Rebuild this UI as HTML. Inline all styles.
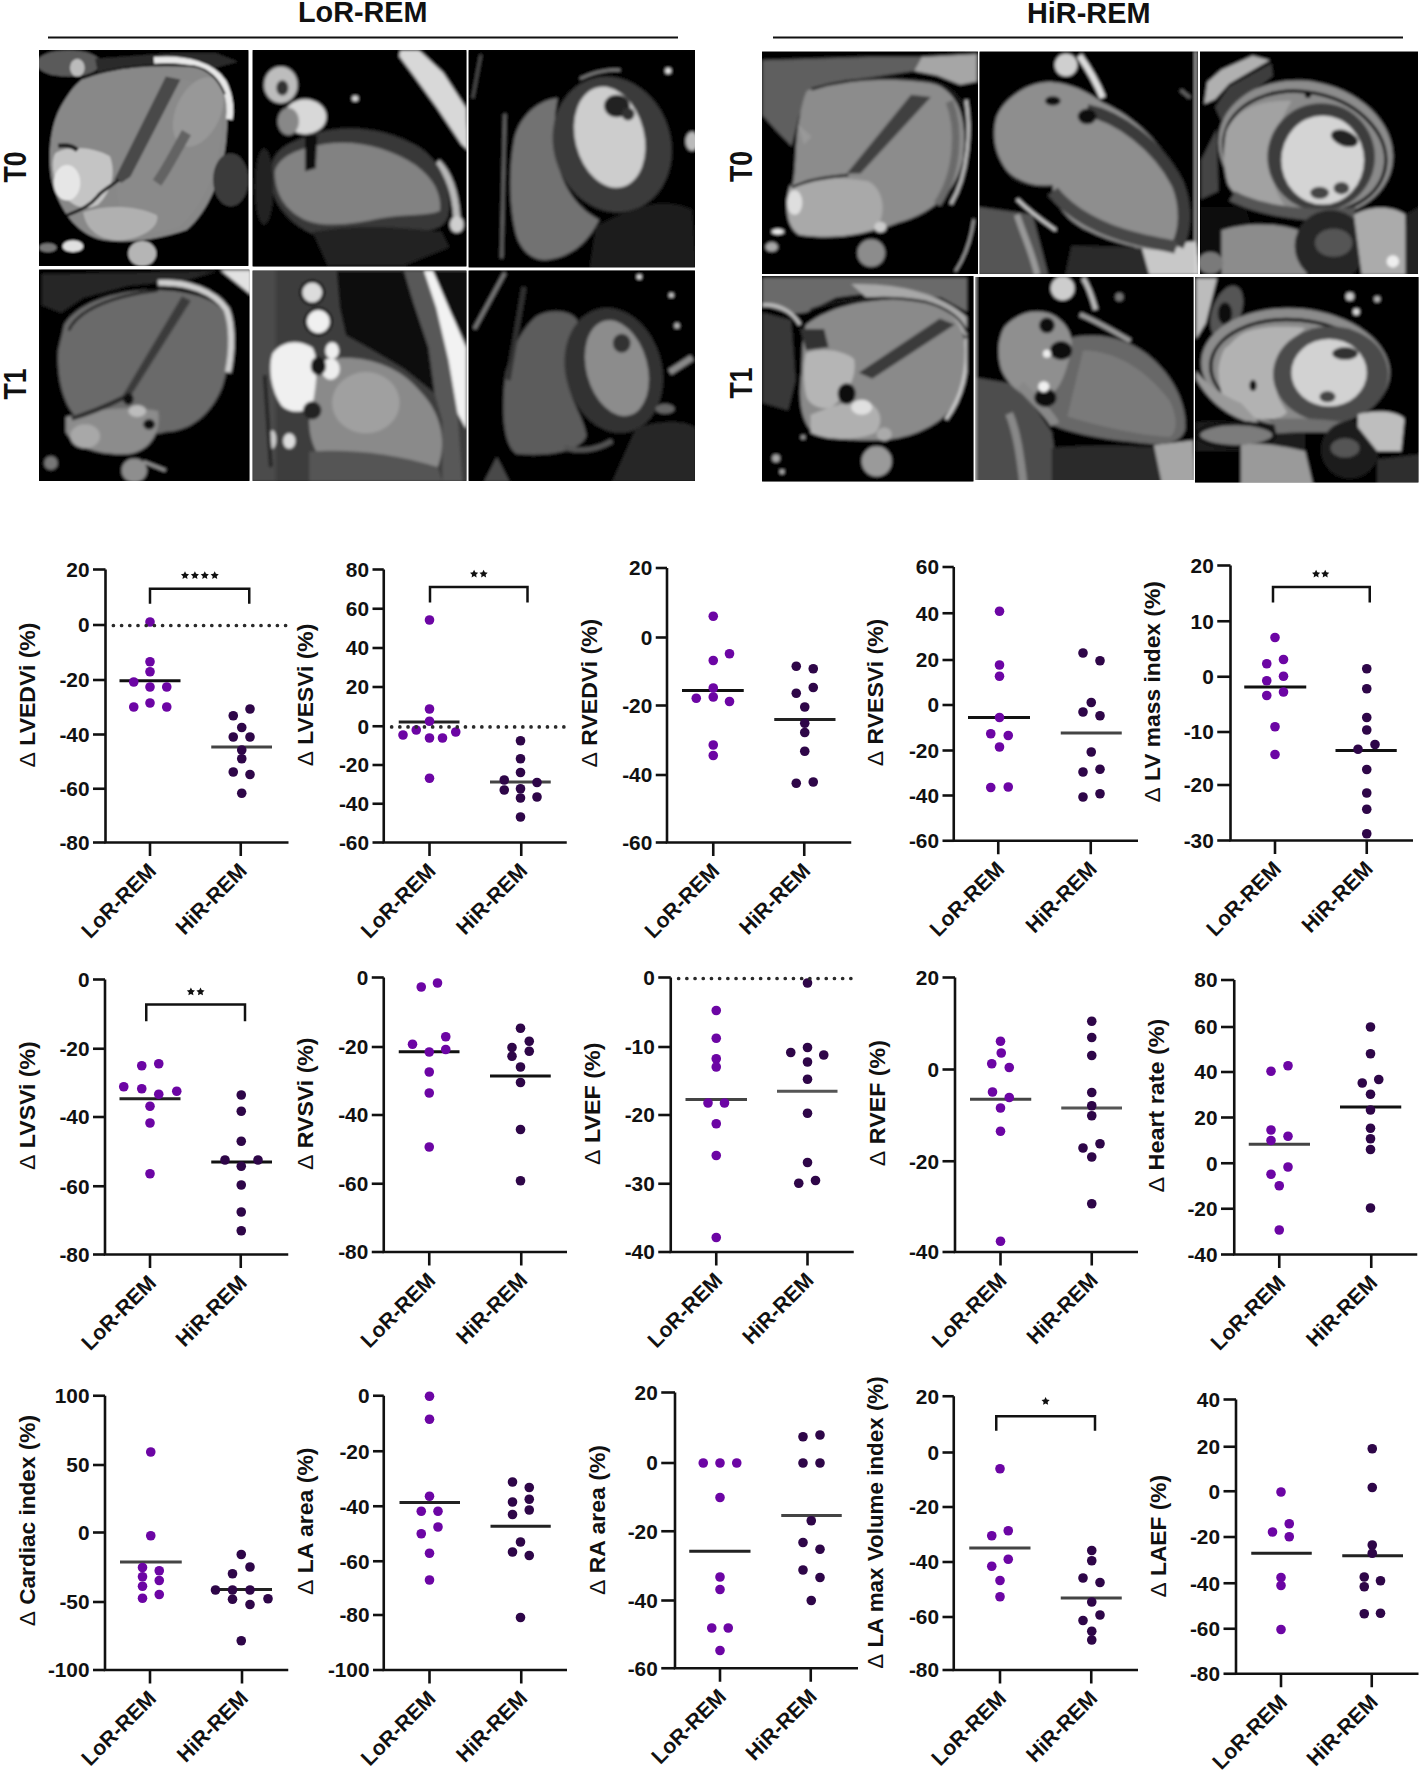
<!DOCTYPE html>
<html><head><meta charset="utf-8"><title>Figure</title>
<style>
html,body{margin:0;padding:0;background:#fff;}
body{width:1424px;height:1772px;overflow:hidden;}
svg{display:block;}
text{font-family:"Liberation Sans", sans-serif;font-weight:bold;fill:#111;}
.tk{font-size:20.8px;text-anchor:end;}
.xl{font-size:21.5px;text-anchor:end;}
.yl{font-size:22.5px;text-anchor:middle;}
.st{font-size:19px;text-anchor:middle;}
.ti{font-size:29.5px;}
</style></head><body>
<svg width="1424" height="1772" viewBox="0 0 1424 1772">
<rect width="1424" height="1772" fill="#fff"/>

<text x="298" y="22.4" class="ti" textLength="129.5" lengthAdjust="spacingAndGlyphs">LoR-REM</text>
<text x="1027" y="22.6" class="ti" textLength="123.5" lengthAdjust="spacingAndGlyphs">HiR-REM</text>
<path d="M48 37.5H678M773 37.5H1403" stroke="#111" stroke-width="2.2"/>
<text transform="translate(26 167) rotate(-90)" x="0" y="0" style="font-size:31px;text-anchor:middle" textLength="31" lengthAdjust="spacingAndGlyphs">T0</text>
<text transform="translate(26 384) rotate(-90)" x="0" y="0" style="font-size:31px;text-anchor:middle" textLength="31" lengthAdjust="spacingAndGlyphs">T1</text>
<text transform="translate(752 166.5) rotate(-90)" x="0" y="0" style="font-size:31px;text-anchor:middle" textLength="31" lengthAdjust="spacingAndGlyphs">T0</text>
<text transform="translate(752 383) rotate(-90)" x="0" y="0" style="font-size:31px;text-anchor:middle" textLength="31" lengthAdjust="spacingAndGlyphs">T1</text>
<defs>
<clipPath id="c_p1"><rect x="39" y="50" width="209.5" height="216"/></clipPath>
<clipPath id="c_p2"><rect x="252.5" y="50" width="214.0" height="216.5"/></clipPath>
<clipPath id="c_p3"><rect x="468.5" y="50" width="226.5" height="217.5"/></clipPath>
<clipPath id="c_p4"><rect x="39" y="269.5" width="210.5" height="211.5"/></clipPath>
<clipPath id="c_p5"><rect x="252.5" y="270.5" width="214.0" height="210.5"/></clipPath>
<clipPath id="c_p6"><rect x="468.5" y="270.5" width="226.5" height="210.5"/></clipPath>
<clipPath id="c_p7"><rect x="762" y="51.5" width="216" height="222.5"/></clipPath>
<clipPath id="c_p8"><rect x="979.5" y="51.5" width="218.5" height="222.5"/></clipPath>
<clipPath id="c_p9"><rect x="1200" y="51.5" width="218" height="222.5"/></clipPath>
<clipPath id="c_p10"><rect x="762" y="276" width="211.5" height="205.5"/></clipPath>
<clipPath id="c_p11"><rect x="975.5" y="277" width="218.0" height="203"/></clipPath>
<clipPath id="c_p12"><rect x="1195" y="277" width="223.5" height="205.5"/></clipPath>
<filter id="mb" x="-5%" y="-5%" width="110%" height="110%"><feGaussianBlur stdDeviation="9"/></filter>
</defs>
<g clip-path="url(#c_p1)"><rect x="39" y="50" width="209.5" height="216" fill="#050505"/><g transform="translate(39 50) scale(0.147472)" filter="url(#mb)">
<rect x="0" y="0" width="1424" height="1465" fill="#050505"/>
<ellipse cx="200" cy="90" rx="220" ry="90" fill="#5a5a5a"/>
<ellipse cx="260" cy="120" rx="50" ry="60" fill="#bbb"/>
<path d="M380 60 L900 20 L1200 20 L1350 80 L1200 120 L700 110 L400 160 Z" fill="#2a2a2a"/>
<path d="M290 200 C500 120 800 90 1100 100 C1250 150 1300 300 1270 600 C1250 850 1150 1100 1000 1220 C800 1290 550 1320 400 1280 C250 1230 150 1100 90 900 C60 750 70 550 130 420 C180 320 230 250 290 200 Z" fill="#888"/>
<path d="M900 190 C1100 200 1220 300 1240 500 C1230 800 1120 1050 950 1200 C800 1250 650 1250 560 1200 L520 900 C600 700 750 400 900 190 Z" fill="#8a8a8a"/>
<ellipse cx="1080" cy="420" rx="150" ry="250" transform="rotate(25 1080 420)" fill="#989898"/>
<path d="M1000 560 C920 700 860 820 800 900" fill="none" stroke="#636363" stroke-width="70"/>
<path d="M110 700 C200 640 380 660 480 720 C520 820 500 950 400 1050 C300 1100 200 1050 140 950 C90 850 80 760 110 700 Z" fill="#c4c4c4"/>
<ellipse cx="190" cy="900" rx="90" ry="120" fill="#e6e6e6"/>
<path d="M300 1100 C450 1050 650 1050 800 1120 C820 1200 700 1280 550 1290 C420 1290 320 1230 300 1100 Z" fill="#b0b0b0"/>
<path d="M860 180 L960 200 L620 860 L560 900 L510 880 Z" fill="#4a4a4a"/>
<path d="M540 880 C480 930 420 960 400 990 C350 1050 300 1080 190 1120" fill="none" stroke="#1a1a1a" stroke-width="22"/>
<path d="M130 650 C200 640 240 660 260 680" fill="none" stroke="#222" stroke-width="30"/>
<path d="M780 70 C1000 50 1180 110 1250 220 C1300 320 1300 420 1290 470" fill="none" stroke="#e8e8e8" stroke-width="45"/>
<path d="M300 190 C500 110 800 90 1050 110 C1150 130 1220 200 1260 300" fill="none" stroke="#1a1a1a" stroke-width="14"/>
<ellipse cx="700" cy="1380" rx="95" ry="85" fill="#b5b5b5"/>
<ellipse cx="230" cy="1330" rx="70" ry="40" fill="#e0e0e0"/>
<ellipse cx="1300" cy="880" rx="120" ry="180" fill="#3a3a3a"/>
<ellipse cx="60" cy="1340" rx="60" ry="30" fill="#777"/>
</g></g>
<g clip-path="url(#c_p2)"><rect x="252.5" y="50" width="214.0" height="216.5" fill="#050505"/><g transform="translate(252 50) scale(0.151685)" filter="url(#mb)">
<rect x="0" y="0" width="1424" height="1437" fill="#050505"/>
<path d="M980 0 L1100 0 L1260 150 L1410 380 L1424 660 L1380 620 L1220 380 L1060 160 L970 40 Z" fill="#d8d8d8"/>
<path d="M1220 740 C1300 820 1340 950 1350 1100" fill="none" stroke="#b8b8b8" stroke-width="45"/>
<ellipse cx="1350" cy="1150" rx="45" ry="55" fill="#cfcfcf"/>
<path d="M130 760 C150 650 250 600 450 540 C650 490 900 520 1100 640 C1250 740 1310 900 1300 1050 C1290 1180 1200 1200 1000 1200 C800 1260 600 1290 450 1230 C250 1170 140 1000 130 900 Z" fill="#383838"/>
<path d="M150 800 C180 700 300 650 480 620 C680 590 900 640 1080 760 C1200 850 1250 950 1240 1060 C1150 1100 1000 1080 850 1110 C700 1140 500 1180 350 1120 C220 1060 150 950 150 800 Z" fill="#828282"/>
<ellipse cx="190" cy="230" rx="110" ry="120" fill="#bdbdbd"/>
<ellipse cx="200" cy="250" rx="40" ry="50" fill="#333"/>
<ellipse cx="350" cy="440" rx="140" ry="115" fill="#d8d8d8"/>
<ellipse cx="240" cy="470" rx="70" ry="90" fill="#888"/>
<path d="M350 560 L430 560 L420 780 L350 800 Z" fill="#0a0a0a"/>
<ellipse cx="680" cy="320" rx="20" ry="18" fill="#ddd"/>
<path d="M400 1200 C600 1160 900 1150 1250 1200 L1300 1300 L1000 1420 L500 1420 Z" fill="#222"/>
<ellipse cx="80" cy="900" rx="60" ry="250" fill="#222"/>
</g></g>
<g clip-path="url(#c_p3)"><rect x="468.5" y="50" width="226.5" height="217.5" fill="#050505"/><g transform="translate(468 50) scale(0.160112)" filter="url(#mb)">
<rect x="0" y="0" width="1424" height="1362" fill="#050505"/>
<path d="M560 300 C450 310 330 400 290 550 C250 750 260 1000 300 1150 C330 1250 400 1320 500 1310 C650 1290 750 1200 820 1060 C700 1000 600 880 560 700 C530 550 540 400 560 300 Z" fill="#727272"/>
<ellipse cx="900" cy="590" rx="365" ry="430" transform="rotate(-18 900 590)" fill="#3a3a3a"/>
<ellipse cx="885" cy="545" rx="215" ry="320" transform="rotate(-14 885 545)" fill="#cdcdcd"/>
<ellipse cx="930" cy="350" rx="80" ry="70" fill="#222"/>
<ellipse cx="1000" cy="400" rx="40" ry="40" fill="#333"/>
<path d="M230 400 L210 1300" stroke="#666" stroke-width="18"/>
<path d="M80 30 L30 300" stroke="#555" stroke-width="14"/>
<ellipse cx="1250" cy="130" rx="18" ry="18" fill="#eee"/>
<ellipse cx="1400" cy="570" rx="40" ry="60" fill="#bbb"/>
<path d="M800 1100 C1000 1000 1200 900 1400 1000 L1424 1362 L760 1362 Z" fill="#1e1e1e"/>
<path d="M700 180 C800 130 900 120 950 125" fill="none" stroke="#888" stroke-width="14"/>
</g></g>
<g clip-path="url(#c_p4)"><rect x="39" y="269.5" width="210.5" height="211.5" fill="#050505"/><g transform="translate(39 268) scale(0.148876)" filter="url(#mb)">
<rect x="0" y="0" width="1424" height="1437" fill="#050505"/>
<path d="M20 40 L700 30 L1200 20 L1000 80 L600 120 L300 200 L150 300 L20 250 Z" fill="#262626"/>
<path d="M1220 15 L1424 15 L1424 180 Z" fill="#e2e2e2"/>
<path d="M170 380 C250 250 450 170 700 150 C900 140 1150 170 1250 300 C1300 450 1280 650 1230 800 C1150 1000 1000 1100 850 1100 C700 1150 400 1050 250 1000 C150 900 120 700 130 550 Z" fill="#6a6a6a"/>
<path d="M180 1000 C350 950 600 920 800 960 C820 1100 750 1230 600 1250 C400 1260 230 1200 180 1100 Z" fill="#8c8c8c"/>
<ellipse cx="310" cy="1130" rx="100" ry="80" fill="#a8a8a8"/>
<ellipse cx="660" cy="960" rx="60" ry="40" fill="#bcbcbc"/>
<path d="M960 190 L1020 220 L610 870 L560 860 Z" fill="#3a3a3a"/>
<path d="M570 870 C450 930 330 980 220 1010" fill="none" stroke="#262626" stroke-width="30"/>
<path d="M800 100 C1000 90 1180 160 1260 280 C1300 380 1300 550 1270 700" fill="none" stroke="#cfcfcf" stroke-width="40"/>
<path d="M200 420 C250 300 450 190 800 150" fill="none" stroke="#1a1a1a" stroke-width="18"/>
<ellipse cx="600" cy="880" rx="35" ry="40" fill="#111"/>
<ellipse cx="740" cy="1050" rx="40" ry="35" fill="#111"/>
<ellipse cx="640" cy="1360" rx="85" ry="80" fill="#8e8e8e"/>
<ellipse cx="80" cy="1310" rx="45" ry="45" fill="#777"/>
<path d="M700 1300 L850 1360" stroke="#999" stroke-width="20"/>
</g></g>
<g clip-path="url(#c_p5)"><rect x="252.5" y="270.5" width="214.0" height="210.5" fill="#050505"/><g transform="translate(251 268) scale(0.153090)" filter="url(#mb)">
<rect x="0" y="0" width="1424" height="1398" fill="#3e3e3e"/>
<rect x="0" y="0" width="160" height="1398" fill="#4c4c4c"/>
<path d="M560 20 L1000 20 L1060 220 L1160 520 L1200 820 L1000 660 L800 540 L620 440 L580 260 Z" fill="#0c0c0c"/>
<path d="M1000 20 L1130 20 L1210 260 L1290 600 L1350 950 L1380 1398 L1250 1398 L1250 1000 L1200 820 L1160 520 L1060 220 Z" fill="#595959"/>
<path d="M1130 20 L1190 20 L1310 300 L1405 520 L1405 1050 L1350 950 L1290 600 L1210 260 Z" fill="#f2f2f2"/>
<path d="M1190 20 L1424 20 L1424 520 L1310 300 Z" fill="#101010"/>
<path d="M500 600 C700 560 950 620 1100 800 C1250 950 1280 1150 1220 1300 C1100 1380 800 1390 600 1350 C450 1300 380 1150 380 1000 C380 800 420 650 500 600 Z" fill="#8a8a8a"/>
<ellipse cx="750" cy="880" rx="220" ry="200" fill="#a0a0a0"/>
<path d="M140 560 C200 480 300 460 400 520 C450 600 420 800 400 900 C350 950 250 950 200 900 C130 800 110 650 140 560 Z" fill="#f0f0f0"/>
<ellipse cx="520" cy="660" rx="60" ry="70" fill="#eee"/>
<circle cx="400" cy="160" r="85" fill="#111"/>
<circle cx="400" cy="160" r="65" fill="#dcdcdc"/>
<circle cx="440" cy="350" r="95" fill="#111"/>
<circle cx="440" cy="350" r="75" fill="#f0f0f0"/>
<ellipse cx="530" cy="540" rx="45" ry="55" fill="#eee"/>
<ellipse cx="440" cy="640" rx="50" ry="60" fill="#141414"/>
<ellipse cx="400" cy="930" rx="60" ry="60" fill="#222"/>
<path d="M380 1200 C600 1180 900 1200 1220 1300 L1250 1398 L380 1398 Z" fill="#555"/>
<ellipse cx="250" cy="1130" rx="40" ry="50" fill="#ddd"/>
<ellipse cx="140" cy="1120" rx="25" ry="60" fill="#ccc"/>
<path d="M90 700 L130 1300" stroke="#222" stroke-width="25"/>
</g></g>
<g clip-path="url(#c_p6)"><rect x="468.5" y="270.5" width="226.5" height="210.5" fill="#050505"/><g transform="translate(468 268) scale(0.160112)" filter="url(#mb)">
<rect x="0" y="0" width="1424" height="1337" fill="#050505"/>
<path d="M430 300 C550 240 680 280 690 350 C680 450 610 550 620 700 C650 850 730 950 740 1050 C700 1150 500 1180 300 1160 C220 1100 210 900 230 700 C250 550 330 380 430 300 Z" fill="#5c5c5c"/>
<ellipse cx="910" cy="640" rx="300" ry="395" transform="rotate(-15 910 640)" fill="#333"/>
<ellipse cx="930" cy="625" rx="190" ry="305" transform="rotate(-15 930 625)" fill="#8c8c8c"/>
<ellipse cx="960" cy="470" rx="55" ry="60" fill="#333"/>
<path d="M230 30 L40 380" stroke="#7a7a7a" stroke-width="22"/>
<path d="M350 120 L250 700" stroke="#333" stroke-width="30"/>
<path d="M1050 1000 C1200 950 1350 950 1424 1000 L1424 1337 L900 1337 Z" fill="#262626"/>
<path d="M1260 650 L1400 560" stroke="#8a8a8a" stroke-width="40"/>
<ellipse cx="1230" cy="880" rx="60" ry="30" fill="#666"/>
<circle cx="1070" cy="55" r="15" fill="#eee"/>
<circle cx="1270" cy="170" r="14" fill="#ddd"/>
<circle cx="1305" cy="360" r="16" fill="#bbb"/>
<path d="M100 1337 L180 1180 L260 1337 Z" fill="#4a4a4a"/>
<path d="M600 1120 C700 1150 800 1140 900 1080" fill="none" stroke="#555" stroke-width="30"/>
</g></g>
<g clip-path="url(#c_p7)"><rect x="762" y="51.5" width="216" height="222.5" fill="#050505"/><g transform="translate(761 51) scale(0.153090)" filter="url(#mb)">
<rect x="0" y="0" width="1424" height="1463" fill="#050505"/>
<path d="M10 60 L700 40 L1050 40 L1000 130 L600 190 L350 260 L250 420 L200 620 L100 520 L10 420 Z" fill="#5e5e5e"/>
<path d="M1050 40 L1410 20 L1410 200 L1300 220 L1150 160 L1000 130 Z" fill="#a6a6a6"/>
<path d="M300 260 C500 170 800 150 1100 200 C1300 260 1350 450 1320 700 C1280 900 1150 1050 900 1120 C700 1200 450 1230 250 1200 C160 1150 150 1000 200 900 C230 800 220 650 240 500 C260 400 270 320 300 260 Z" fill="#8c8c8c"/>
<path d="M190 880 C300 820 500 820 700 850 C800 900 820 1050 760 1150 C650 1210 450 1230 250 1200 C170 1150 150 1000 190 880 Z" fill="#a9a9a9"/>
<ellipse cx="220" cy="990" rx="50" ry="80" fill="#dedede"/>
<path d="M980 285 L1110 300 L650 800 L560 800 Z" fill="#404040"/>
<path d="M1230 330 C1300 500 1290 800 1150 1000" fill="none" stroke="#6a6a6a" stroke-width="50"/>
<path d="M570 810 C450 820 300 840 200 890" fill="none" stroke="#1a1a1a" stroke-width="18"/>
<path d="M330 250 C550 180 800 160 1100 200 C1250 230 1320 320 1340 420" fill="none" stroke="#1a1a1a" stroke-width="16"/>
<path d="M1340 320 C1370 500 1360 800 1240 1000" fill="none" stroke="#bcbcbc" stroke-width="22"/>
<path d="M240 480 L330 560 L280 610 Z" fill="#999"/>
<circle cx="720" cy="1320" r="90" fill="#8c8c8c"/>
<ellipse cx="110" cy="1180" rx="40" ry="18" fill="#eee"/>
<ellipse cx="780" cy="1150" rx="40" ry="35" fill="#ccc"/>
<ellipse cx="70" cy="1280" rx="40" ry="30" fill="#aaa"/>
<path d="M1390 1100 C1370 1250 1330 1350 1270 1440" fill="none" stroke="#ccc" stroke-width="10"/>
</g></g>
<g clip-path="url(#c_p8)"><rect x="979.5" y="51.5" width="218.5" height="222.5" fill="#050505"/><g transform="translate(978 51) scale(0.155899)" filter="url(#mb)">
<rect x="0" y="0" width="1424" height="1437" fill="#050505"/>
<path d="M0 1000 L350 1050 L450 1437 L0 1437 Z" fill="#555"/>
<path d="M250 1050 C300 1200 350 1300 380 1437" fill="none" stroke="#999" stroke-width="40"/>
<path d="M1000 1250 L1400 1220 L1424 1437 L1100 1437 Z" fill="#c8c8c8"/>
<path d="M600 1250 L1050 1260 L1100 1437 L560 1437 Z" fill="#2a2a2a"/>
<path d="M120 420 C180 280 350 190 480 200 C600 210 700 260 800 330 C1000 420 1200 600 1300 850 C1360 1050 1340 1200 1270 1270 C1150 1300 900 1250 700 1150 C550 1080 480 950 480 880 C400 870 250 850 180 760 C100 650 90 520 120 420 Z" fill="#8e8e8e"/>
<path d="M700 380 C900 420 1150 600 1280 850 C1340 1000 1330 1150 1280 1250" fill="none" stroke="#3a3a3a" stroke-width="80"/>
<path d="M480 900 C600 1050 800 1150 1000 1200 C1100 1230 1200 1240 1270 1260" fill="none" stroke="#474747" stroke-width="80"/>
<path d="M200 800 C250 850 350 880 480 870" fill="none" stroke="#111" stroke-width="20"/>
<circle cx="565" cy="90" r="72" fill="#cfcfcf"/>
<path d="M650 30 C700 100 760 200 800 300" fill="none" stroke="#ddd" stroke-width="40"/>
<ellipse cx="480" cy="320" rx="50" ry="30" fill="#111"/>
<ellipse cx="700" cy="420" rx="60" ry="50" fill="#111"/>
<path d="M250 950 C300 1000 400 1080 500 1150" fill="none" stroke="#ccc" stroke-width="20"/>
<path d="M1395 0 L1395 1437" stroke="#ddd" stroke-width="8"/>
<path d="M1300 250 L1360 300" stroke="#666" stroke-width="20"/>
</g></g>
<g clip-path="url(#c_p9)"><rect x="1200" y="51.5" width="218" height="222.5" fill="#050505"/><g transform="translate(1198 51) scale(0.155899)" filter="url(#mb)">
<rect x="0" y="0" width="1424" height="1437" fill="#050505"/>
<path d="M40 340 L60 200 L150 120 L350 30 L460 60 L200 210 L110 310 Z" fill="#b0b0b0"/>
<path d="M110 360 L200 230 L470 80 L480 160 L300 300 L150 450 Z" fill="#3e3e3e"/>
<path d="M20 700 L120 500 L130 900 L20 950 Z" fill="#444"/>
<ellipse cx="690" cy="630" rx="565" ry="435" transform="rotate(12 690 630)" fill="#8c8c8c"/>
<ellipse cx="685" cy="650" rx="525" ry="385" transform="rotate(12 685 650)" fill="#8a8a8a" stroke="#151515" stroke-width="22"/>
<path d="M180 520 C230 380 400 310 600 320 C520 450 470 600 470 750 C480 880 530 960 580 1020 C400 1010 240 960 190 850 C160 750 160 620 180 520 Z" fill="#a2a2a2"/>
<circle cx="790" cy="680" r="345" fill="#3c3c3c"/>
<ellipse cx="800" cy="700" rx="265" ry="285" fill="#d4d4d4"/>
<ellipse cx="940" cy="560" rx="90" ry="50" transform="rotate(20 940 560)" fill="#222"/>
<ellipse cx="780" cy="910" rx="60" ry="40" fill="#444"/>
<ellipse cx="920" cy="880" rx="50" ry="40" fill="#444"/>
<circle cx="705" cy="282" r="20" fill="#000"/>
<path d="M20 1000 L300 1000 L350 1150 L200 1300 L20 1300 Z" fill="#111"/>
<path d="M200 960 C400 1060 700 1110 1000 1080 L1010 1000 C700 1030 400 990 240 900 Z" fill="#555"/>
<path d="M150 1150 C300 1100 500 1100 650 1150 L700 1437 L150 1437 Z" fill="#8c8c8c"/>
<ellipse cx="80" cy="1360" rx="80" ry="70" fill="#7a7a7a"/>
<circle cx="850" cy="1250" r="230" fill="#262626"/>
<ellipse cx="870" cy="1230" rx="120" ry="90" fill="#555"/>
<path d="M1000 1050 C1100 990 1250 990 1330 1050 L1350 1437 L1050 1437 Z" fill="#ababab"/>
<path d="M1330 1050 L1424 1000 L1424 1437 L1330 1437 Z" fill="#222"/>
<circle cx="1250" cy="1350" r="40" fill="#eee"/>
</g></g>
<g clip-path="url(#c_p10)"><rect x="762" y="276" width="211.5" height="205.5" fill="#050505"/><g transform="translate(761 275) scale(0.150281)" filter="url(#mb)">
<rect x="0" y="0" width="1424" height="1384" fill="#050505"/>
<path d="M10 20 L1380 20 L1380 250 L1200 150 L800 110 L500 150 L300 250 L200 260 L10 200 Z" fill="#6a6a6a"/>
<path d="M600 60 C900 50 1200 120 1370 280 L1370 420 C1250 270 1000 160 700 150 Z" fill="#a8a8a8"/>
<path d="M10 200 C100 190 200 230 260 330" fill="none" stroke="#bbb" stroke-width="25"/>
<path d="M10 250 L200 300 L230 700 L180 900 L10 850 Z" fill="#383838"/>
<path d="M300 330 C500 180 800 140 1100 180 C1300 230 1380 400 1370 600 C1360 800 1250 950 1100 1020 C950 1100 800 1100 700 1100 C550 1100 400 1080 330 1030 C260 950 250 800 270 650 C280 500 270 400 300 330 Z" fill="#8a8a8a"/>
<path d="M300 520 C400 480 550 500 620 560 C640 700 560 800 470 880 C400 900 320 870 300 800 C280 700 280 600 300 520 Z" fill="#b5b5b5"/>
<path d="M330 930 C450 880 600 830 700 840 C800 880 820 980 760 1050 C650 1100 450 1110 330 1050 Z" fill="#b0b0b0"/>
<ellipse cx="670" cy="880" rx="70" ry="50" fill="#e0e0e0"/>
<path d="M1190 290 L1290 330 L740 690 L650 650 Z" fill="#3a3a3a"/>
<ellipse cx="570" cy="790" rx="60" ry="70" fill="#0d0d0d"/>
<path d="M260 360 L420 360 L450 480 L300 500 Z" fill="#333"/>
<path d="M330 230 C550 150 850 130 1100 180 C1250 220 1340 300 1370 380" fill="none" stroke="#1a1a1a" stroke-width="16"/>
<path d="M1365 420 C1380 600 1350 800 1230 960" fill="none" stroke="#c8c8c8" stroke-width="24"/>
<circle cx="770" cy="1240" r="100" fill="#9a9a9a"/>
<ellipse cx="820" cy="1060" rx="50" ry="45" fill="#aaa"/>
<path d="M1385 0 L1385 1384" stroke="#000" stroke-width="30"/>
<circle cx="100" cy="1220" r="25" fill="#aaa"/>
<circle cx="140" cy="1310" r="15" fill="#bbb"/>
<circle cx="280" cy="1080" r="15" fill="#999"/>
</g></g>
<g clip-path="url(#c_p11)"><rect x="975.5" y="277" width="218.0" height="203" fill="#050505"/><g transform="translate(973 275) scale(0.157303)" filter="url(#mb)">
<rect x="0" y="0" width="1424" height="1322" fill="#050505"/>
<path d="M0 650 L300 700 L500 1000 L550 1322 L0 1322 Z" fill="#4e4e4e"/>
<path d="M230 880 C280 1000 300 1150 320 1322" fill="none" stroke="#888" stroke-width="50"/>
<path d="M500 1100 C700 1080 1000 1080 1200 1100 L1300 1322 L500 1322 Z" fill="#2b2b2b"/>
<path d="M1150 1080 L1400 1050 L1410 1322 L1200 1322 Z" fill="#a5a5a5"/>
<path d="M620 400 C800 360 1000 400 1150 540 C1300 680 1360 850 1350 980 C1320 1080 1200 1090 1000 1060 C800 1040 600 1000 500 950 C450 850 500 600 620 400 Z" fill="#686868"/>
<path d="M700 480 C900 480 1100 600 1250 800 C1300 900 1300 1000 1250 1030 C1050 1020 800 960 600 900 Z" fill="#7a7a7a"/>
<path d="M200 330 C280 240 400 210 500 250 C600 300 650 400 620 500 C580 650 550 750 450 780 C350 800 230 720 180 600 C150 500 160 400 200 330 Z" fill="#8f8f8f"/>
<path d="M300 700 C400 800 500 900 520 950" fill="none" stroke="#888" stroke-width="60"/>
<circle cx="570" cy="85" r="75" fill="#cdcdcd"/>
<path d="M700 20 C740 80 760 150 780 220" fill="none" stroke="#bbb" stroke-width="30"/>
<path d="M680 250 C800 300 900 360 1000 420" fill="none" stroke="#999" stroke-width="30"/>
<ellipse cx="560" cy="480" rx="70" ry="60" fill="#0a0a0a"/>
<ellipse cx="470" cy="320" rx="50" ry="50" fill="#111"/>
<ellipse cx="460" cy="780" rx="70" ry="60" fill="#0a0a0a"/>
<circle cx="470" cy="500" r="25" fill="#eee"/>
<circle cx="450" cy="710" r="35" fill="#f0f0f0"/>
<circle cx="930" cy="140" r="25" fill="#777"/>
<path d="M15 0 L15 1322" stroke="#ddd" stroke-width="8"/>
</g></g>
<g clip-path="url(#c_p12)"><rect x="1195" y="277" width="223.5" height="205.5" fill="#050505"/><g transform="translate(1193 275) scale(0.160112)" filter="url(#mb)">
<rect x="0" y="0" width="1424" height="1312" fill="#050505"/>
<path d="M20 20 L150 20 L80 300 L20 400 Z" fill="#bcbcbc"/>
<ellipse cx="210" cy="230" rx="90" ry="170" transform="rotate(20 210 230)" fill="#555"/>
<ellipse cx="200" cy="240" rx="45" ry="70" fill="#111"/>
<ellipse cx="640" cy="580" rx="590" ry="370" transform="rotate(5 640 580)" fill="#8c8c8c"/>
<ellipse cx="635" cy="600" rx="525" ry="320" transform="rotate(5 635 600)" fill="#8a8a8a" stroke="#141414" stroke-width="22"/>
<path d="M158 595 C170 500 200 445 219 445 C260 400 300 360 351 349 C420 330 480 323 526 323 C600 322 680 325 701 332 C650 380 620 400 605 419 C570 470 545 500 535 525 C515 580 508 620 508 648 C515 700 525 740 535 770 C555 810 575 840 588 858 C550 890 520 900 482 902 C420 900 360 895 307 884 C260 860 220 830 193 788 C170 720 160 660 158 595 Z" fill="#b2b2b2"/>
<ellipse cx="860" cy="620" rx="360" ry="300" fill="#4c4c4c"/>
<ellipse cx="850" cy="610" rx="235" ry="210" fill="#d2d2d2"/>
<ellipse cx="950" cy="490" rx="80" ry="40" fill="#333"/>
<ellipse cx="840" cy="760" rx="50" ry="35" fill="#444"/>
<ellipse cx="375" cy="690" rx="22" ry="35" fill="#111"/>
<path d="M20 650 C80 760 180 860 320 910 L420 930 L300 800 C200 760 100 700 20 600 Z" fill="#9a9a9a"/>
<path d="M20 920 C200 900 500 920 700 960 L700 1100 L20 1100 Z" fill="#1a1a1a"/>
<ellipse cx="270" cy="1000" rx="240" ry="75" fill="#7c7c7c" stroke="#111" stroke-width="28"/>
<path d="M500 900 C650 890 850 900 1000 930 L980 990 C800 980 650 980 520 990 Z" fill="#707070"/>
<path d="M300 1060 C450 1040 600 1080 700 1100 L750 1312 L300 1312 Z" fill="#9a9a9a"/>
<circle cx="980" cy="1090" r="180" fill="#1e1e1e"/>
<ellipse cx="950" cy="1080" rx="90" ry="60" fill="#555"/>
<path d="M1030 870 C1150 840 1280 850 1320 900 L1300 1100 L1150 1100 L1030 950 Z" fill="#bebebe"/>
<path d="M1150 1150 L1424 1120 L1424 1312 L1150 1312 Z" fill="#2e2e2e"/>
<circle cx="980" cy="135" r="25" fill="#ccc"/>
<circle cx="1150" cy="150" r="18" fill="#bbb"/>
<circle cx="1020" cy="230" r="20" fill="#ddd"/>
</g></g>
<path d="M105.5 569.5V842.5H288.5" fill="none" stroke="#111" stroke-width="2.6"/>
<path d="M93 569.5H105.5" stroke="#111" stroke-width="2.6"/>
<text x="89.5" y="576.8" class="tk">20</text>
<path d="M93 625H105.5" stroke="#111" stroke-width="2.6"/>
<text x="89.5" y="632.3" class="tk">0</text>
<path d="M93 680H105.5" stroke="#111" stroke-width="2.6"/>
<text x="89.5" y="687.3" class="tk">-20</text>
<path d="M93 734.5H105.5" stroke="#111" stroke-width="2.6"/>
<text x="89.5" y="741.8" class="tk">-40</text>
<path d="M93 788.75H105.5" stroke="#111" stroke-width="2.6"/>
<text x="89.5" y="796.05" class="tk">-60</text>
<path d="M93 842.5H105.5" stroke="#111" stroke-width="2.6"/>
<text x="89.5" y="849.8" class="tk">-80</text>
<path d="M150 842.5V856" stroke="#111" stroke-width="2.6"/>
<path d="M240.75 842.5V856" stroke="#111" stroke-width="2.6"/>
<text transform="translate(157.4 872.2) rotate(-45)" x="0" y="0" class="xl" textLength="95" lengthAdjust="spacingAndGlyphs">LoR-REM</text>
<text transform="translate(248.15 872.2) rotate(-45)" x="0" y="0" class="xl" textLength="90.2" lengthAdjust="spacingAndGlyphs">HiR-REM</text>
<path d="M150 603.75V588.75H249.25V603.75" fill="none" stroke="#111" stroke-width="2.5"/>
<polygon points="185.00,571.20 186.23,573.80 189.09,574.17 187.00,576.15 187.53,578.98 185.00,577.60 182.47,578.98 183.00,576.15 180.91,574.17 183.77,573.80" fill="#111"/>
<polygon points="194.90,571.20 196.13,573.80 198.99,574.17 196.90,576.15 197.43,578.98 194.90,577.60 192.37,578.98 192.90,576.15 190.81,574.17 193.67,573.80" fill="#111"/>
<polygon points="204.80,571.20 206.03,573.80 208.89,574.17 206.80,576.15 207.33,578.98 204.80,577.60 202.27,578.98 202.80,576.15 200.71,574.17 203.57,573.80" fill="#111"/>
<polygon points="214.70,571.20 215.93,573.80 218.79,574.17 216.70,576.15 217.23,578.98 214.70,577.60 212.17,578.98 212.70,576.15 210.61,574.17 213.47,573.80" fill="#111"/>
<path d="M119.5 680.75H180.5" stroke="#111" stroke-width="2.8"/>
<path d="M211.25 747H272" stroke="#444" stroke-width="2.8"/>
<circle cx="150" cy="622" r="4.8" fill="#6c05a4"/>
<circle cx="150" cy="661.75" r="4.8" fill="#6c05a4"/>
<circle cx="150" cy="671.75" r="4.8" fill="#6c05a4"/>
<circle cx="133.75" cy="682" r="4.8" fill="#6c05a4"/>
<circle cx="150" cy="687" r="4.8" fill="#6c05a4"/>
<circle cx="166.75" cy="687" r="4.8" fill="#6c05a4"/>
<circle cx="133.75" cy="707" r="4.8" fill="#6c05a4"/>
<circle cx="150" cy="703" r="4.8" fill="#6c05a4"/>
<circle cx="166.75" cy="707" r="4.8" fill="#6c05a4"/>
<circle cx="250" cy="709" r="4.8" fill="#2e0648"/>
<circle cx="233.25" cy="715.75" r="4.8" fill="#2e0648"/>
<circle cx="241.75" cy="727.5" r="4.8" fill="#2e0648"/>
<circle cx="233.25" cy="737" r="4.8" fill="#2e0648"/>
<circle cx="250" cy="737" r="4.8" fill="#2e0648"/>
<circle cx="241.75" cy="750" r="4.8" fill="#2e0648"/>
<circle cx="241.75" cy="758.75" r="4.8" fill="#2e0648"/>
<circle cx="233.25" cy="772" r="4.8" fill="#2e0648"/>
<circle cx="250" cy="774.5" r="4.8" fill="#2e0648"/>
<circle cx="241.75" cy="793.25" r="4.8" fill="#2e0648"/>
<path d="M113.4 625.5H288" stroke="#2a2a2a" stroke-width="3.7" stroke-linecap="round" stroke-dasharray="0 8.2"/>
<text transform="translate(35.1 695) rotate(-90)" x="0" y="0" class="yl" textLength="145" lengthAdjust="spacingAndGlyphs"><tspan font-weight="normal">Δ</tspan> LVEDVi (%)</text>
<path d="M383.75 569.5V842.5H566.75" fill="none" stroke="#111" stroke-width="2.6"/>
<path d="M372.5 569.5H383.75" stroke="#111" stroke-width="2.6"/>
<text x="369" y="576.8" class="tk">80</text>
<path d="M372.5 608.75H383.75" stroke="#111" stroke-width="2.6"/>
<text x="369" y="616.05" class="tk">60</text>
<path d="M372.5 648H383.75" stroke="#111" stroke-width="2.6"/>
<text x="369" y="655.3" class="tk">40</text>
<path d="M372.5 687H383.75" stroke="#111" stroke-width="2.6"/>
<text x="369" y="694.3" class="tk">20</text>
<path d="M372.5 726.25H383.75" stroke="#111" stroke-width="2.6"/>
<text x="369" y="733.55" class="tk">0</text>
<path d="M372.5 765H383.75" stroke="#111" stroke-width="2.6"/>
<text x="369" y="772.3" class="tk">-20</text>
<path d="M372.5 803.75H383.75" stroke="#111" stroke-width="2.6"/>
<text x="369" y="811.05" class="tk">-40</text>
<path d="M372.5 842.5H383.75" stroke="#111" stroke-width="2.6"/>
<text x="369" y="849.8" class="tk">-60</text>
<path d="M429.5 842.5V856" stroke="#111" stroke-width="2.6"/>
<path d="M521.25 842.5V856" stroke="#111" stroke-width="2.6"/>
<text transform="translate(436.9 872.2) rotate(-45)" x="0" y="0" class="xl" textLength="95" lengthAdjust="spacingAndGlyphs">LoR-REM</text>
<text transform="translate(528.65 872.2) rotate(-45)" x="0" y="0" class="xl" textLength="90.2" lengthAdjust="spacingAndGlyphs">HiR-REM</text>
<path d="M430 602.5V587H527.5V602.5" fill="none" stroke="#111" stroke-width="2.5"/>
<polygon points="474.10,569.70 475.33,572.30 478.19,572.67 476.10,574.65 476.63,577.48 474.10,576.10 471.57,577.48 472.10,574.65 470.01,572.67 472.87,572.30" fill="#111"/>
<polygon points="483.60,569.70 484.83,572.30 487.69,572.67 485.60,574.65 486.13,577.48 483.60,576.10 481.07,577.48 481.60,574.65 479.51,572.67 482.37,572.30" fill="#111"/>
<path d="M398.75 722H459.5" stroke="#222" stroke-width="2.8"/>
<path d="M490 782H550.75" stroke="#444" stroke-width="2.8"/>
<circle cx="429.5" cy="620" r="4.8" fill="#6c05a4"/>
<circle cx="429.5" cy="709" r="4.8" fill="#6c05a4"/>
<circle cx="429.5" cy="721.25" r="4.8" fill="#6c05a4"/>
<circle cx="403" cy="735" r="4.8" fill="#6c05a4"/>
<circle cx="416.25" cy="730" r="4.8" fill="#6c05a4"/>
<circle cx="429.5" cy="738" r="4.8" fill="#6c05a4"/>
<circle cx="442.5" cy="738" r="4.8" fill="#6c05a4"/>
<circle cx="455.75" cy="732" r="4.8" fill="#6c05a4"/>
<circle cx="429.5" cy="778.25" r="4.8" fill="#6c05a4"/>
<circle cx="520.5" cy="740.75" r="4.8" fill="#2e0648"/>
<circle cx="520.5" cy="758.75" r="4.8" fill="#2e0648"/>
<circle cx="520.5" cy="772.5" r="4.8" fill="#2e0648"/>
<circle cx="504.25" cy="780" r="4.8" fill="#2e0648"/>
<circle cx="537" cy="782.5" r="4.8" fill="#2e0648"/>
<circle cx="520.5" cy="788.75" r="4.8" fill="#2e0648"/>
<circle cx="504.25" cy="790" r="4.8" fill="#2e0648"/>
<circle cx="520.5" cy="798" r="4.8" fill="#2e0648"/>
<circle cx="537" cy="797" r="4.8" fill="#2e0648"/>
<circle cx="520.5" cy="817" r="4.8" fill="#2e0648"/>
<path d="M391.65 726.9H566.5" stroke="#2a2a2a" stroke-width="3.7" stroke-linecap="round" stroke-dasharray="0 8.2"/>
<text transform="translate(313.35 695) rotate(-90)" x="0" y="0" class="yl" textLength="142.5" lengthAdjust="spacingAndGlyphs"><tspan font-weight="normal">Δ</tspan> LVESVi (%)</text>
<path d="M667 568V842.5H851.25" fill="none" stroke="#111" stroke-width="2.6"/>
<path d="M655.75 568H667" stroke="#111" stroke-width="2.6"/>
<text x="652.25" y="575.3" class="tk">20</text>
<path d="M655.75 637.5H667" stroke="#111" stroke-width="2.6"/>
<text x="652.25" y="644.8" class="tk">0</text>
<path d="M655.75 705.5H667" stroke="#111" stroke-width="2.6"/>
<text x="652.25" y="712.8" class="tk">-20</text>
<path d="M655.75 775H667" stroke="#111" stroke-width="2.6"/>
<text x="652.25" y="782.3" class="tk">-40</text>
<path d="M655.75 842.5H667" stroke="#111" stroke-width="2.6"/>
<text x="652.25" y="849.8" class="tk">-60</text>
<path d="M713.25 842.5V856" stroke="#111" stroke-width="2.6"/>
<path d="M804.25 842.5V856" stroke="#111" stroke-width="2.6"/>
<text transform="translate(720.65 872.2) rotate(-45)" x="0" y="0" class="xl" textLength="95" lengthAdjust="spacingAndGlyphs">LoR-REM</text>
<text transform="translate(811.65 872.2) rotate(-45)" x="0" y="0" class="xl" textLength="90.2" lengthAdjust="spacingAndGlyphs">HiR-REM</text>
<path d="M682 690.5H743.75" stroke="#111" stroke-width="2.8"/>
<path d="M774.25 719.5H835.5" stroke="#222" stroke-width="2.8"/>
<circle cx="713.25" cy="616.25" r="4.8" fill="#6c05a4"/>
<circle cx="729.5" cy="653.75" r="4.8" fill="#6c05a4"/>
<circle cx="713.25" cy="660.5" r="4.8" fill="#6c05a4"/>
<circle cx="713.25" cy="688" r="4.8" fill="#6c05a4"/>
<circle cx="696.25" cy="698.25" r="4.8" fill="#6c05a4"/>
<circle cx="713.25" cy="697" r="4.8" fill="#6c05a4"/>
<circle cx="729.5" cy="701.5" r="4.8" fill="#6c05a4"/>
<circle cx="713.25" cy="745" r="4.8" fill="#6c05a4"/>
<circle cx="713.25" cy="755.5" r="4.8" fill="#6c05a4"/>
<circle cx="796.25" cy="666.25" r="4.8" fill="#2e0648"/>
<circle cx="813.25" cy="668.75" r="4.8" fill="#2e0648"/>
<circle cx="813.25" cy="687.5" r="4.8" fill="#2e0648"/>
<circle cx="796.25" cy="693.25" r="4.8" fill="#2e0648"/>
<circle cx="804.75" cy="707" r="4.8" fill="#2e0648"/>
<circle cx="804.75" cy="723.25" r="4.8" fill="#2e0648"/>
<circle cx="804.75" cy="732.5" r="4.8" fill="#2e0648"/>
<circle cx="804.75" cy="751.25" r="4.8" fill="#2e0648"/>
<circle cx="796.25" cy="783.25" r="4.8" fill="#2e0648"/>
<circle cx="813.25" cy="782" r="4.8" fill="#2e0648"/>
<text transform="translate(596.6 693.12) rotate(-90)" x="0" y="0" class="yl" textLength="148.75" lengthAdjust="spacingAndGlyphs"><tspan font-weight="normal">Δ</tspan> RVEDVi (%)</text>
<path d="M953.75 567V840.75H1138" fill="none" stroke="#111" stroke-width="2.6"/>
<path d="M942.5 567H953.75" stroke="#111" stroke-width="2.6"/>
<text x="939" y="574.3" class="tk">60</text>
<path d="M942.5 613.25H953.75" stroke="#111" stroke-width="2.6"/>
<text x="939" y="620.55" class="tk">40</text>
<path d="M942.5 660H953.75" stroke="#111" stroke-width="2.6"/>
<text x="939" y="667.3" class="tk">20</text>
<path d="M942.5 705H953.75" stroke="#111" stroke-width="2.6"/>
<text x="939" y="712.3" class="tk">0</text>
<path d="M942.5 750.5H953.75" stroke="#111" stroke-width="2.6"/>
<text x="939" y="757.8" class="tk">-20</text>
<path d="M942.5 795.5H953.75" stroke="#111" stroke-width="2.6"/>
<text x="939" y="802.8" class="tk">-40</text>
<path d="M942.5 840.75H953.75" stroke="#111" stroke-width="2.6"/>
<text x="939" y="848.05" class="tk">-60</text>
<path d="M998.25 840.75V854.25" stroke="#111" stroke-width="2.6"/>
<path d="M1090.75 840.75V854.25" stroke="#111" stroke-width="2.6"/>
<text transform="translate(1005.65 870.45) rotate(-45)" x="0" y="0" class="xl" textLength="95" lengthAdjust="spacingAndGlyphs">LoR-REM</text>
<text transform="translate(1098.15 870.45) rotate(-45)" x="0" y="0" class="xl" textLength="90.2" lengthAdjust="spacingAndGlyphs">HiR-REM</text>
<path d="M968 717.5H1030" stroke="#111" stroke-width="2.8"/>
<path d="M1060.75 733H1121.75" stroke="#444" stroke-width="2.8"/>
<circle cx="999.5" cy="611.25" r="4.8" fill="#6c05a4"/>
<circle cx="999.5" cy="665" r="4.8" fill="#6c05a4"/>
<circle cx="999.5" cy="676.25" r="4.8" fill="#6c05a4"/>
<circle cx="999.5" cy="717.5" r="4.8" fill="#6c05a4"/>
<circle cx="990.75" cy="733.75" r="4.8" fill="#6c05a4"/>
<circle cx="1008.25" cy="735.5" r="4.8" fill="#6c05a4"/>
<circle cx="999.5" cy="747" r="4.8" fill="#6c05a4"/>
<circle cx="990.75" cy="787.5" r="4.8" fill="#6c05a4"/>
<circle cx="1008.25" cy="787" r="4.8" fill="#6c05a4"/>
<circle cx="1083" cy="653" r="4.8" fill="#2e0648"/>
<circle cx="1100" cy="660.75" r="4.8" fill="#2e0648"/>
<circle cx="1091.25" cy="702.5" r="4.8" fill="#2e0648"/>
<circle cx="1083" cy="712" r="4.8" fill="#2e0648"/>
<circle cx="1100" cy="715.75" r="4.8" fill="#2e0648"/>
<circle cx="1091.25" cy="752" r="4.8" fill="#2e0648"/>
<circle cx="1083" cy="772" r="4.8" fill="#2e0648"/>
<circle cx="1100" cy="769.25" r="4.8" fill="#2e0648"/>
<circle cx="1083" cy="797" r="4.8" fill="#2e0648"/>
<circle cx="1100" cy="793.75" r="4.8" fill="#2e0648"/>
<text transform="translate(883.35 692.5) rotate(-90)" x="0" y="0" class="yl" textLength="147.5" lengthAdjust="spacingAndGlyphs"><tspan font-weight="normal">Δ</tspan> RVESVi (%)</text>
<path d="M1230.5 565.5V840.5H1413" fill="none" stroke="#111" stroke-width="2.6"/>
<path d="M1217.25 565.5H1230.5" stroke="#111" stroke-width="2.6"/>
<text x="1213.75" y="572.8" class="tk">20</text>
<path d="M1217.25 621.25H1230.5" stroke="#111" stroke-width="2.6"/>
<text x="1213.75" y="628.55" class="tk">10</text>
<path d="M1217.25 676.75H1230.5" stroke="#111" stroke-width="2.6"/>
<text x="1213.75" y="684.05" class="tk">0</text>
<path d="M1217.25 732H1230.5" stroke="#111" stroke-width="2.6"/>
<text x="1213.75" y="739.3" class="tk">-10</text>
<path d="M1217.25 785H1230.5" stroke="#111" stroke-width="2.6"/>
<text x="1213.75" y="792.3" class="tk">-20</text>
<path d="M1217.25 840.5H1230.5" stroke="#111" stroke-width="2.6"/>
<text x="1213.75" y="847.8" class="tk">-30</text>
<path d="M1275 840.5V854" stroke="#111" stroke-width="2.6"/>
<path d="M1366.75 840.5V854" stroke="#111" stroke-width="2.6"/>
<text transform="translate(1282.4 870.2) rotate(-45)" x="0" y="0" class="xl" textLength="95" lengthAdjust="spacingAndGlyphs">LoR-REM</text>
<text transform="translate(1374.15 870.2) rotate(-45)" x="0" y="0" class="xl" textLength="90.2" lengthAdjust="spacingAndGlyphs">HiR-REM</text>
<path d="M1273 602.5V587H1369.75V602.5" fill="none" stroke="#111" stroke-width="2.5"/>
<polygon points="1316.10,569.70 1317.33,572.30 1320.19,572.67 1318.10,574.65 1318.63,577.48 1316.10,576.10 1313.57,577.48 1314.10,574.65 1312.01,572.67 1314.87,572.30" fill="#111"/>
<polygon points="1325.20,569.70 1326.43,572.30 1329.29,572.67 1327.20,574.65 1327.73,577.48 1325.20,576.10 1322.67,577.48 1323.20,574.65 1321.11,572.67 1323.97,572.30" fill="#111"/>
<path d="M1244.25 687H1306.25" stroke="#111" stroke-width="2.8"/>
<path d="M1335.5 750.5H1396.75" stroke="#111" stroke-width="2.8"/>
<circle cx="1275" cy="637.5" r="4.8" fill="#6c05a4"/>
<circle cx="1266.75" cy="663.75" r="4.8" fill="#6c05a4"/>
<circle cx="1283.5" cy="659.5" r="4.8" fill="#6c05a4"/>
<circle cx="1283.5" cy="676.25" r="4.8" fill="#6c05a4"/>
<circle cx="1266.75" cy="680.75" r="4.8" fill="#6c05a4"/>
<circle cx="1283.5" cy="692" r="4.8" fill="#6c05a4"/>
<circle cx="1266.75" cy="695.5" r="4.8" fill="#6c05a4"/>
<circle cx="1275" cy="726.75" r="4.8" fill="#6c05a4"/>
<circle cx="1275" cy="754.5" r="4.8" fill="#6c05a4"/>
<circle cx="1366.75" cy="668.75" r="4.8" fill="#2e0648"/>
<circle cx="1366.75" cy="688.75" r="4.8" fill="#2e0648"/>
<circle cx="1366.75" cy="717.5" r="4.8" fill="#2e0648"/>
<circle cx="1366.75" cy="730" r="4.8" fill="#2e0648"/>
<circle cx="1358" cy="749.25" r="4.8" fill="#2e0648"/>
<circle cx="1375" cy="744.5" r="4.8" fill="#2e0648"/>
<circle cx="1366.75" cy="769.5" r="4.8" fill="#2e0648"/>
<circle cx="1366.75" cy="793" r="4.8" fill="#2e0648"/>
<circle cx="1366.75" cy="809.25" r="4.8" fill="#2e0648"/>
<circle cx="1366.75" cy="833.75" r="4.8" fill="#2e0648"/>
<text transform="translate(1160.1 691.88) rotate(-90)" x="0" y="0" class="yl" textLength="221.25" lengthAdjust="spacingAndGlyphs"><tspan font-weight="normal">Δ</tspan> LV mass index (%)</text>
<path d="M105 979.5V1254.5H288.25" fill="none" stroke="#111" stroke-width="2.6"/>
<path d="M93 979.5H105" stroke="#111" stroke-width="2.6"/>
<text x="89.5" y="986.8" class="tk">0</text>
<path d="M93 1048.75H105" stroke="#111" stroke-width="2.6"/>
<text x="89.5" y="1056.05" class="tk">-20</text>
<path d="M93 1117H105" stroke="#111" stroke-width="2.6"/>
<text x="89.5" y="1124.3" class="tk">-40</text>
<path d="M93 1186.25H105" stroke="#111" stroke-width="2.6"/>
<text x="89.5" y="1193.55" class="tk">-60</text>
<path d="M93 1254.5H105" stroke="#111" stroke-width="2.6"/>
<text x="89.5" y="1261.8" class="tk">-80</text>
<path d="M150 1254.5V1268" stroke="#111" stroke-width="2.6"/>
<path d="M240.75 1254.5V1268" stroke="#111" stroke-width="2.6"/>
<text transform="translate(157.4 1284.2) rotate(-45)" x="0" y="0" class="xl" textLength="95" lengthAdjust="spacingAndGlyphs">LoR-REM</text>
<text transform="translate(248.15 1284.2) rotate(-45)" x="0" y="0" class="xl" textLength="90.2" lengthAdjust="spacingAndGlyphs">HiR-REM</text>
<path d="M146.25 1021.25V1004.5H245V1021.25" fill="none" stroke="#111" stroke-width="2.5"/>
<polygon points="190.90,987.50 192.13,990.10 194.99,990.47 192.90,992.45 193.43,995.28 190.90,993.90 188.37,995.28 188.90,992.45 186.81,990.47 189.67,990.10" fill="#111"/>
<polygon points="200.50,987.50 201.73,990.10 204.59,990.47 202.50,992.45 203.03,995.28 200.50,993.90 197.97,995.28 198.50,992.45 196.41,990.47 199.27,990.10" fill="#111"/>
<path d="M119.5 1098.75H180.5" stroke="#222" stroke-width="2.8"/>
<path d="M211.25 1162H272" stroke="#111" stroke-width="2.8"/>
<circle cx="141.75" cy="1065.75" r="4.8" fill="#6c05a4"/>
<circle cx="158.75" cy="1063.75" r="4.8" fill="#6c05a4"/>
<circle cx="123.75" cy="1086.75" r="4.8" fill="#6c05a4"/>
<circle cx="141.75" cy="1088.75" r="4.8" fill="#6c05a4"/>
<circle cx="158.75" cy="1094.25" r="4.8" fill="#6c05a4"/>
<circle cx="176.75" cy="1091.25" r="4.8" fill="#6c05a4"/>
<circle cx="150" cy="1106.25" r="4.8" fill="#6c05a4"/>
<circle cx="150" cy="1123" r="4.8" fill="#6c05a4"/>
<circle cx="150" cy="1173.75" r="4.8" fill="#6c05a4"/>
<circle cx="241.25" cy="1095" r="4.8" fill="#2e0648"/>
<circle cx="241.25" cy="1111.25" r="4.8" fill="#2e0648"/>
<circle cx="241.25" cy="1141.25" r="4.8" fill="#2e0648"/>
<circle cx="225" cy="1160" r="4.8" fill="#2e0648"/>
<circle cx="258" cy="1160" r="4.8" fill="#2e0648"/>
<circle cx="241.25" cy="1166.25" r="4.8" fill="#2e0648"/>
<circle cx="241.25" cy="1185" r="4.8" fill="#2e0648"/>
<circle cx="241.25" cy="1212" r="4.8" fill="#2e0648"/>
<circle cx="241.25" cy="1230.75" r="4.8" fill="#2e0648"/>
<text transform="translate(34.6 1105.62) rotate(-90)" x="0" y="0" class="yl" textLength="128.75" lengthAdjust="spacingAndGlyphs"><tspan font-weight="normal">Δ</tspan> LVSVi (%)</text>
<path d="M383.75 977.5V1252H567" fill="none" stroke="#111" stroke-width="2.6"/>
<path d="M371.75 977.5H383.75" stroke="#111" stroke-width="2.6"/>
<text x="368.25" y="984.8" class="tk">0</text>
<path d="M371.75 1047H383.75" stroke="#111" stroke-width="2.6"/>
<text x="368.25" y="1054.3" class="tk">-20</text>
<path d="M371.75 1115H383.75" stroke="#111" stroke-width="2.6"/>
<text x="368.25" y="1122.3" class="tk">-40</text>
<path d="M371.75 1183.75H383.75" stroke="#111" stroke-width="2.6"/>
<text x="368.25" y="1191.05" class="tk">-60</text>
<path d="M371.75 1252H383.75" stroke="#111" stroke-width="2.6"/>
<text x="368.25" y="1259.3" class="tk">-80</text>
<path d="M429.25 1252V1265.5" stroke="#111" stroke-width="2.6"/>
<path d="M521.25 1252V1265.5" stroke="#111" stroke-width="2.6"/>
<text transform="translate(436.65 1281.7) rotate(-45)" x="0" y="0" class="xl" textLength="95" lengthAdjust="spacingAndGlyphs">LoR-REM</text>
<text transform="translate(528.65 1281.7) rotate(-45)" x="0" y="0" class="xl" textLength="90.2" lengthAdjust="spacingAndGlyphs">HiR-REM</text>
<path d="M398.75 1051.75H459.5" stroke="#111" stroke-width="2.8"/>
<path d="M490 1076H550.75" stroke="#111" stroke-width="2.8"/>
<circle cx="421.25" cy="987" r="4.8" fill="#6c05a4"/>
<circle cx="437.5" cy="983" r="4.8" fill="#6c05a4"/>
<circle cx="412.5" cy="1044.25" r="4.8" fill="#6c05a4"/>
<circle cx="445.75" cy="1036.75" r="4.8" fill="#6c05a4"/>
<circle cx="429.25" cy="1052" r="4.8" fill="#6c05a4"/>
<circle cx="445.75" cy="1049.5" r="4.8" fill="#6c05a4"/>
<circle cx="429.25" cy="1072" r="4.8" fill="#6c05a4"/>
<circle cx="429.25" cy="1093" r="4.8" fill="#6c05a4"/>
<circle cx="429.25" cy="1147" r="4.8" fill="#6c05a4"/>
<circle cx="520.5" cy="1028.25" r="4.8" fill="#2e0648"/>
<circle cx="529.25" cy="1041.25" r="4.8" fill="#2e0648"/>
<circle cx="512" cy="1047.5" r="4.8" fill="#2e0648"/>
<circle cx="529.25" cy="1051.25" r="4.8" fill="#2e0648"/>
<circle cx="512" cy="1056.25" r="4.8" fill="#2e0648"/>
<circle cx="520.5" cy="1067" r="4.8" fill="#2e0648"/>
<circle cx="520.5" cy="1082.5" r="4.8" fill="#2e0648"/>
<circle cx="520.5" cy="1129.5" r="4.8" fill="#2e0648"/>
<circle cx="520.5" cy="1180.75" r="4.8" fill="#2e0648"/>
<text transform="translate(313.35 1103.75) rotate(-90)" x="0" y="0" class="yl" textLength="132.5" lengthAdjust="spacingAndGlyphs"><tspan font-weight="normal">Δ</tspan> RVSVi (%)</text>
<path d="M670.75 977.5V1252H853.75" fill="none" stroke="#111" stroke-width="2.6"/>
<path d="M658.25 977.5H670.75" stroke="#111" stroke-width="2.6"/>
<text x="654.75" y="984.8" class="tk">0</text>
<path d="M658.25 1047H670.75" stroke="#111" stroke-width="2.6"/>
<text x="654.75" y="1054.3" class="tk">-10</text>
<path d="M658.25 1115H670.75" stroke="#111" stroke-width="2.6"/>
<text x="654.75" y="1122.3" class="tk">-20</text>
<path d="M658.25 1183.75H670.75" stroke="#111" stroke-width="2.6"/>
<text x="654.75" y="1191.05" class="tk">-30</text>
<path d="M658.25 1252H670.75" stroke="#111" stroke-width="2.6"/>
<text x="654.75" y="1259.3" class="tk">-40</text>
<path d="M716.25 1252V1265.5" stroke="#111" stroke-width="2.6"/>
<path d="M807.5 1252V1265.5" stroke="#111" stroke-width="2.6"/>
<text transform="translate(723.65 1281.7) rotate(-45)" x="0" y="0" class="xl" textLength="95" lengthAdjust="spacingAndGlyphs">LoR-REM</text>
<text transform="translate(814.9 1281.7) rotate(-45)" x="0" y="0" class="xl" textLength="90.2" lengthAdjust="spacingAndGlyphs">HiR-REM</text>
<path d="M685.5 1099.5H747" stroke="#444" stroke-width="2.8"/>
<path d="M777 1091.25H837.5" stroke="#555" stroke-width="2.8"/>
<circle cx="716.25" cy="1010.5" r="4.8" fill="#6c05a4"/>
<circle cx="716.25" cy="1038.25" r="4.8" fill="#6c05a4"/>
<circle cx="716.25" cy="1058.75" r="4.8" fill="#6c05a4"/>
<circle cx="716.25" cy="1067" r="4.8" fill="#6c05a4"/>
<circle cx="708" cy="1103" r="4.8" fill="#6c05a4"/>
<circle cx="724.5" cy="1103" r="4.8" fill="#6c05a4"/>
<circle cx="716.25" cy="1123.75" r="4.8" fill="#6c05a4"/>
<circle cx="716.25" cy="1155.5" r="4.8" fill="#6c05a4"/>
<circle cx="716.25" cy="1237.5" r="4.8" fill="#6c05a4"/>
<circle cx="807.5" cy="983" r="4.8" fill="#2e0648"/>
<circle cx="790.75" cy="1052.5" r="4.8" fill="#2e0648"/>
<circle cx="807.5" cy="1047.5" r="4.8" fill="#2e0648"/>
<circle cx="823.75" cy="1055" r="4.8" fill="#2e0648"/>
<circle cx="807.5" cy="1062" r="4.8" fill="#2e0648"/>
<circle cx="807.5" cy="1079.25" r="4.8" fill="#2e0648"/>
<circle cx="807.5" cy="1113.25" r="4.8" fill="#2e0648"/>
<circle cx="807.5" cy="1162.5" r="4.8" fill="#2e0648"/>
<circle cx="798.75" cy="1183.25" r="4.8" fill="#2e0648"/>
<circle cx="815.5" cy="1180.5" r="4.8" fill="#2e0648"/>
<path d="M678.65 978.5H852.5" stroke="#2a2a2a" stroke-width="3.7" stroke-linecap="round" stroke-dasharray="0 8.2"/>
<text transform="translate(600.35 1103.75) rotate(-90)" x="0" y="0" class="yl" textLength="122.5" lengthAdjust="spacingAndGlyphs"><tspan font-weight="normal">Δ</tspan> LVEF (%)</text>
<path d="M955 977.5V1252H1138" fill="none" stroke="#111" stroke-width="2.6"/>
<path d="M942.5 977.5H955" stroke="#111" stroke-width="2.6"/>
<text x="939" y="984.8" class="tk">20</text>
<path d="M942.5 1069.5H955" stroke="#111" stroke-width="2.6"/>
<text x="939" y="1076.8" class="tk">0</text>
<path d="M942.5 1161.25H955" stroke="#111" stroke-width="2.6"/>
<text x="939" y="1168.55" class="tk">-20</text>
<path d="M942.5 1252H955" stroke="#111" stroke-width="2.6"/>
<text x="939" y="1259.3" class="tk">-40</text>
<path d="M1000.5 1252V1265.5" stroke="#111" stroke-width="2.6"/>
<path d="M1091.75 1252V1265.5" stroke="#111" stroke-width="2.6"/>
<text transform="translate(1007.9 1281.7) rotate(-45)" x="0" y="0" class="xl" textLength="95" lengthAdjust="spacingAndGlyphs">LoR-REM</text>
<text transform="translate(1099.15 1281.7) rotate(-45)" x="0" y="0" class="xl" textLength="90.2" lengthAdjust="spacingAndGlyphs">HiR-REM</text>
<path d="M970 1099.25H1031.25" stroke="#444" stroke-width="2.8"/>
<path d="M1061.25 1108H1122" stroke="#555" stroke-width="2.8"/>
<circle cx="1000.5" cy="1041.25" r="4.8" fill="#6c05a4"/>
<circle cx="1001.25" cy="1053" r="4.8" fill="#6c05a4"/>
<circle cx="991.75" cy="1063.75" r="4.8" fill="#6c05a4"/>
<circle cx="1009.25" cy="1067.5" r="4.8" fill="#6c05a4"/>
<circle cx="992.5" cy="1092" r="4.8" fill="#6c05a4"/>
<circle cx="1009.25" cy="1097.5" r="4.8" fill="#6c05a4"/>
<circle cx="1000.5" cy="1108" r="4.8" fill="#6c05a4"/>
<circle cx="1000.5" cy="1131.25" r="4.8" fill="#6c05a4"/>
<circle cx="1000.5" cy="1241.25" r="4.8" fill="#6c05a4"/>
<circle cx="1091.75" cy="1021.25" r="4.8" fill="#2e0648"/>
<circle cx="1091.75" cy="1037.5" r="4.8" fill="#2e0648"/>
<circle cx="1091.75" cy="1055.5" r="4.8" fill="#2e0648"/>
<circle cx="1091.75" cy="1092.5" r="4.8" fill="#2e0648"/>
<circle cx="1091.75" cy="1105.75" r="4.8" fill="#2e0648"/>
<circle cx="1091.75" cy="1115.75" r="4.8" fill="#2e0648"/>
<circle cx="1083" cy="1148" r="4.8" fill="#2e0648"/>
<circle cx="1100" cy="1143.75" r="4.8" fill="#2e0648"/>
<circle cx="1091.75" cy="1157" r="4.8" fill="#2e0648"/>
<circle cx="1091.75" cy="1203.75" r="4.8" fill="#2e0648"/>
<text transform="translate(884.6 1103.12) rotate(-90)" x="0" y="0" class="yl" textLength="126.25" lengthAdjust="spacingAndGlyphs"><tspan font-weight="normal">Δ</tspan> RVEF (%)</text>
<path d="M1234.25 980V1254.5H1417.25" fill="none" stroke="#111" stroke-width="2.6"/>
<path d="M1221 980H1234.25" stroke="#111" stroke-width="2.6"/>
<text x="1217.5" y="987.3" class="tk">80</text>
<path d="M1221 1027H1234.25" stroke="#111" stroke-width="2.6"/>
<text x="1217.5" y="1034.3" class="tk">60</text>
<path d="M1221 1072H1234.25" stroke="#111" stroke-width="2.6"/>
<text x="1217.5" y="1079.3" class="tk">40</text>
<path d="M1221 1117.5H1234.25" stroke="#111" stroke-width="2.6"/>
<text x="1217.5" y="1124.8" class="tk">20</text>
<path d="M1221 1163.25H1234.25" stroke="#111" stroke-width="2.6"/>
<text x="1217.5" y="1170.55" class="tk">0</text>
<path d="M1221 1208.75H1234.25" stroke="#111" stroke-width="2.6"/>
<text x="1217.5" y="1216.05" class="tk">-20</text>
<path d="M1221 1254.5H1234.25" stroke="#111" stroke-width="2.6"/>
<text x="1217.5" y="1261.8" class="tk">-40</text>
<path d="M1279.25 1254.5V1268" stroke="#111" stroke-width="2.6"/>
<path d="M1371.25 1254.5V1268" stroke="#111" stroke-width="2.6"/>
<text transform="translate(1286.65 1284.2) rotate(-45)" x="0" y="0" class="xl" textLength="95" lengthAdjust="spacingAndGlyphs">LoR-REM</text>
<text transform="translate(1378.65 1284.2) rotate(-45)" x="0" y="0" class="xl" textLength="90.2" lengthAdjust="spacingAndGlyphs">HiR-REM</text>
<path d="M1248.75 1144.25H1310" stroke="#444" stroke-width="2.8"/>
<path d="M1340 1107H1401.25" stroke="#111" stroke-width="2.8"/>
<circle cx="1271" cy="1071.25" r="4.8" fill="#6c05a4"/>
<circle cx="1288" cy="1065.75" r="4.8" fill="#6c05a4"/>
<circle cx="1271" cy="1130" r="4.8" fill="#6c05a4"/>
<circle cx="1288" cy="1136.25" r="4.8" fill="#6c05a4"/>
<circle cx="1271" cy="1140.5" r="4.8" fill="#6c05a4"/>
<circle cx="1288" cy="1167" r="4.8" fill="#6c05a4"/>
<circle cx="1271" cy="1174.25" r="4.8" fill="#6c05a4"/>
<circle cx="1279.25" cy="1185.75" r="4.8" fill="#6c05a4"/>
<circle cx="1279.25" cy="1230" r="4.8" fill="#6c05a4"/>
<circle cx="1370.5" cy="1027" r="4.8" fill="#2e0648"/>
<circle cx="1370.5" cy="1053.75" r="4.8" fill="#2e0648"/>
<circle cx="1362.25" cy="1083" r="4.8" fill="#2e0648"/>
<circle cx="1378.75" cy="1079.5" r="4.8" fill="#2e0648"/>
<circle cx="1370.5" cy="1094.25" r="4.8" fill="#2e0648"/>
<circle cx="1370.5" cy="1110" r="4.8" fill="#2e0648"/>
<circle cx="1370.5" cy="1128.25" r="4.8" fill="#2e0648"/>
<circle cx="1370.5" cy="1138.75" r="4.8" fill="#2e0648"/>
<circle cx="1370.5" cy="1149.5" r="4.8" fill="#2e0648"/>
<circle cx="1370.5" cy="1208" r="4.8" fill="#2e0648"/>
<text transform="translate(1163.85 1105.62) rotate(-90)" x="0" y="0" class="yl" textLength="173.75" lengthAdjust="spacingAndGlyphs"><tspan font-weight="normal">Δ</tspan> Heart rate (%)</text>
<path d="M105 1395.75V1670H288.25" fill="none" stroke="#111" stroke-width="2.6"/>
<path d="M93 1395.75H105" stroke="#111" stroke-width="2.6"/>
<text x="89.5" y="1403.05" class="tk">100</text>
<path d="M93 1465H105" stroke="#111" stroke-width="2.6"/>
<text x="89.5" y="1472.3" class="tk">50</text>
<path d="M93 1532.5H105" stroke="#111" stroke-width="2.6"/>
<text x="89.5" y="1539.8" class="tk">0</text>
<path d="M93 1602H105" stroke="#111" stroke-width="2.6"/>
<text x="89.5" y="1609.3" class="tk">-50</text>
<path d="M93 1670H105" stroke="#111" stroke-width="2.6"/>
<text x="89.5" y="1677.3" class="tk">-100</text>
<path d="M150 1670V1683.5" stroke="#111" stroke-width="2.6"/>
<path d="M242 1670V1683.5" stroke="#111" stroke-width="2.6"/>
<text transform="translate(157.4 1699.7) rotate(-45)" x="0" y="0" class="xl" textLength="95" lengthAdjust="spacingAndGlyphs">LoR-REM</text>
<text transform="translate(249.4 1699.7) rotate(-45)" x="0" y="0" class="xl" textLength="90.2" lengthAdjust="spacingAndGlyphs">HiR-REM</text>
<path d="M120 1562H181.75" stroke="#444" stroke-width="2.8"/>
<path d="M214.5 1589.5H272" stroke="#222" stroke-width="2.8"/>
<circle cx="150.75" cy="1452" r="4.8" fill="#6c05a4"/>
<circle cx="150.75" cy="1535.75" r="4.8" fill="#6c05a4"/>
<circle cx="142.5" cy="1567.5" r="4.8" fill="#6c05a4"/>
<circle cx="159.25" cy="1570.75" r="4.8" fill="#6c05a4"/>
<circle cx="142.5" cy="1576.75" r="4.8" fill="#6c05a4"/>
<circle cx="159.25" cy="1580.5" r="4.8" fill="#6c05a4"/>
<circle cx="142.5" cy="1586.25" r="4.8" fill="#6c05a4"/>
<circle cx="159.25" cy="1594.5" r="4.8" fill="#6c05a4"/>
<circle cx="142.5" cy="1598.25" r="4.8" fill="#6c05a4"/>
<circle cx="241.25" cy="1554.5" r="4.8" fill="#2e0648"/>
<circle cx="250" cy="1567" r="4.8" fill="#2e0648"/>
<circle cx="232.5" cy="1573.75" r="4.8" fill="#2e0648"/>
<circle cx="215.5" cy="1590" r="4.8" fill="#2e0648"/>
<circle cx="232.5" cy="1590" r="4.8" fill="#2e0648"/>
<circle cx="250" cy="1590" r="4.8" fill="#2e0648"/>
<circle cx="232.5" cy="1599.25" r="4.8" fill="#2e0648"/>
<circle cx="268" cy="1598.75" r="4.8" fill="#2e0648"/>
<circle cx="250" cy="1604.5" r="4.8" fill="#2e0648"/>
<circle cx="241.25" cy="1640.75" r="4.8" fill="#2e0648"/>
<text transform="translate(34.6 1520.62) rotate(-90)" x="0" y="0" class="yl" textLength="211.25" lengthAdjust="spacingAndGlyphs"><tspan font-weight="normal">Δ</tspan> Cardiac index (%)</text>
<path d="M383.75 1395.75V1670H567" fill="none" stroke="#111" stroke-width="2.6"/>
<path d="M373 1395.75H383.75" stroke="#111" stroke-width="2.6"/>
<text x="369.5" y="1403.05" class="tk">0</text>
<path d="M373 1451.25H383.75" stroke="#111" stroke-width="2.6"/>
<text x="369.5" y="1458.55" class="tk">-20</text>
<path d="M373 1506.25H383.75" stroke="#111" stroke-width="2.6"/>
<text x="369.5" y="1513.55" class="tk">-40</text>
<path d="M373 1561.25H383.75" stroke="#111" stroke-width="2.6"/>
<text x="369.5" y="1568.55" class="tk">-60</text>
<path d="M373 1615H383.75" stroke="#111" stroke-width="2.6"/>
<text x="369.5" y="1622.3" class="tk">-80</text>
<path d="M373 1670H383.75" stroke="#111" stroke-width="2.6"/>
<text x="369.5" y="1677.3" class="tk">-100</text>
<path d="M429.5 1670V1683.5" stroke="#111" stroke-width="2.6"/>
<path d="M521.25 1670V1683.5" stroke="#111" stroke-width="2.6"/>
<text transform="translate(436.9 1699.7) rotate(-45)" x="0" y="0" class="xl" textLength="95" lengthAdjust="spacingAndGlyphs">LoR-REM</text>
<text transform="translate(528.65 1699.7) rotate(-45)" x="0" y="0" class="xl" textLength="90.2" lengthAdjust="spacingAndGlyphs">HiR-REM</text>
<path d="M399.5 1502.5H460" stroke="#222" stroke-width="2.8"/>
<path d="M490.5 1526.25H550.75" stroke="#222" stroke-width="2.8"/>
<circle cx="429.5" cy="1396.25" r="4.8" fill="#6c05a4"/>
<circle cx="429.5" cy="1419.25" r="4.8" fill="#6c05a4"/>
<circle cx="429.5" cy="1496.25" r="4.8" fill="#6c05a4"/>
<circle cx="421.25" cy="1511.25" r="4.8" fill="#6c05a4"/>
<circle cx="438" cy="1511.25" r="4.8" fill="#6c05a4"/>
<circle cx="438" cy="1527" r="4.8" fill="#6c05a4"/>
<circle cx="421.25" cy="1533.75" r="4.8" fill="#6c05a4"/>
<circle cx="429.5" cy="1553.25" r="4.8" fill="#6c05a4"/>
<circle cx="429.5" cy="1580" r="4.8" fill="#6c05a4"/>
<circle cx="512.5" cy="1482" r="4.8" fill="#2e0648"/>
<circle cx="529.25" cy="1487.5" r="4.8" fill="#2e0648"/>
<circle cx="512.5" cy="1502" r="4.8" fill="#2e0648"/>
<circle cx="529.25" cy="1499.25" r="4.8" fill="#2e0648"/>
<circle cx="529.25" cy="1510" r="4.8" fill="#2e0648"/>
<circle cx="512.5" cy="1514.5" r="4.8" fill="#2e0648"/>
<circle cx="520.5" cy="1542" r="4.8" fill="#2e0648"/>
<circle cx="512.5" cy="1552" r="4.8" fill="#2e0648"/>
<circle cx="529.25" cy="1555.5" r="4.8" fill="#2e0648"/>
<circle cx="520.5" cy="1617.5" r="4.8" fill="#2e0648"/>
<text transform="translate(313.35 1521.25) rotate(-90)" x="0" y="0" class="yl" textLength="147.5" lengthAdjust="spacingAndGlyphs"><tspan font-weight="normal">Δ</tspan> LA area (%)</text>
<path d="M675 1392.5V1668.25H858" fill="none" stroke="#111" stroke-width="2.6"/>
<path d="M661.25 1392.5H675" stroke="#111" stroke-width="2.6"/>
<text x="657.75" y="1399.8" class="tk">20</text>
<path d="M661.25 1463H675" stroke="#111" stroke-width="2.6"/>
<text x="657.75" y="1470.3" class="tk">0</text>
<path d="M661.25 1531.25H675" stroke="#111" stroke-width="2.6"/>
<text x="657.75" y="1538.55" class="tk">-20</text>
<path d="M661.25 1600.5H675" stroke="#111" stroke-width="2.6"/>
<text x="657.75" y="1607.8" class="tk">-40</text>
<path d="M661.25 1668.25H675" stroke="#111" stroke-width="2.6"/>
<text x="657.75" y="1675.55" class="tk">-60</text>
<path d="M720 1668.25V1681.75" stroke="#111" stroke-width="2.6"/>
<path d="M810.75 1668.25V1681.75" stroke="#111" stroke-width="2.6"/>
<text transform="translate(727.4 1697.95) rotate(-45)" x="0" y="0" class="xl" textLength="95" lengthAdjust="spacingAndGlyphs">LoR-REM</text>
<text transform="translate(818.15 1697.95) rotate(-45)" x="0" y="0" class="xl" textLength="90.2" lengthAdjust="spacingAndGlyphs">HiR-REM</text>
<path d="M689.25 1551.25H750.5" stroke="#222" stroke-width="2.8"/>
<path d="M781.25 1515.5H841.75" stroke="#444" stroke-width="2.8"/>
<circle cx="703.25" cy="1463" r="4.8" fill="#6c05a4"/>
<circle cx="720" cy="1463" r="4.8" fill="#6c05a4"/>
<circle cx="736.75" cy="1463" r="4.8" fill="#6c05a4"/>
<circle cx="720" cy="1497.5" r="4.8" fill="#6c05a4"/>
<circle cx="720" cy="1577" r="4.8" fill="#6c05a4"/>
<circle cx="720" cy="1589.5" r="4.8" fill="#6c05a4"/>
<circle cx="711.75" cy="1628" r="4.8" fill="#6c05a4"/>
<circle cx="728.25" cy="1628" r="4.8" fill="#6c05a4"/>
<circle cx="720" cy="1650.5" r="4.8" fill="#6c05a4"/>
<circle cx="803" cy="1436.75" r="4.8" fill="#2e0648"/>
<circle cx="820" cy="1435" r="4.8" fill="#2e0648"/>
<circle cx="803" cy="1463" r="4.8" fill="#2e0648"/>
<circle cx="820" cy="1463" r="4.8" fill="#2e0648"/>
<circle cx="811.25" cy="1520.75" r="4.8" fill="#2e0648"/>
<circle cx="803" cy="1542.5" r="4.8" fill="#2e0648"/>
<circle cx="820" cy="1549.25" r="4.8" fill="#2e0648"/>
<circle cx="803" cy="1570" r="4.8" fill="#2e0648"/>
<circle cx="820" cy="1577.5" r="4.8" fill="#2e0648"/>
<circle cx="811.25" cy="1600.5" r="4.8" fill="#2e0648"/>
<text transform="translate(604.6 1520) rotate(-90)" x="0" y="0" class="yl" textLength="150" lengthAdjust="spacingAndGlyphs"><tspan font-weight="normal">Δ</tspan> RA area (%)</text>
<path d="M953.75 1396.25V1670H1138" fill="none" stroke="#111" stroke-width="2.6"/>
<path d="M942.5 1396.25H953.75" stroke="#111" stroke-width="2.6"/>
<text x="939" y="1403.55" class="tk">20</text>
<path d="M942.5 1452.5H953.75" stroke="#111" stroke-width="2.6"/>
<text x="939" y="1459.8" class="tk">0</text>
<path d="M942.5 1507H953.75" stroke="#111" stroke-width="2.6"/>
<text x="939" y="1514.3" class="tk">-20</text>
<path d="M942.5 1562H953.75" stroke="#111" stroke-width="2.6"/>
<text x="939" y="1569.3" class="tk">-40</text>
<path d="M942.5 1617H953.75" stroke="#111" stroke-width="2.6"/>
<text x="939" y="1624.3" class="tk">-60</text>
<path d="M942.5 1670H953.75" stroke="#111" stroke-width="2.6"/>
<text x="939" y="1677.3" class="tk">-80</text>
<path d="M1000 1670V1683.5" stroke="#111" stroke-width="2.6"/>
<path d="M1091.25 1670V1683.5" stroke="#111" stroke-width="2.6"/>
<text transform="translate(1007.4 1699.7) rotate(-45)" x="0" y="0" class="xl" textLength="95" lengthAdjust="spacingAndGlyphs">LoR-REM</text>
<text transform="translate(1098.65 1699.7) rotate(-45)" x="0" y="0" class="xl" textLength="90.2" lengthAdjust="spacingAndGlyphs">HiR-REM</text>
<path d="M996.25 1430.75V1416.25H1095V1430.75" fill="none" stroke="#111" stroke-width="2.5"/>
<polygon points="1045.60,1397.00 1046.83,1399.60 1049.69,1399.97 1047.60,1401.95 1048.13,1404.78 1045.60,1403.40 1043.07,1404.78 1043.60,1401.95 1041.51,1399.97 1044.37,1399.60" fill="#111"/>
<path d="M969.25 1548H1030.5" stroke="#444" stroke-width="2.8"/>
<path d="M1060.75 1598H1121.75" stroke="#444" stroke-width="2.8"/>
<circle cx="1000" cy="1468.75" r="4.8" fill="#6c05a4"/>
<circle cx="1008.25" cy="1530.75" r="4.8" fill="#6c05a4"/>
<circle cx="991.75" cy="1535.75" r="4.8" fill="#6c05a4"/>
<circle cx="1008.25" cy="1559.25" r="4.8" fill="#6c05a4"/>
<circle cx="991.75" cy="1566.25" r="4.8" fill="#6c05a4"/>
<circle cx="1000" cy="1580.5" r="4.8" fill="#6c05a4"/>
<circle cx="1000" cy="1596.75" r="4.8" fill="#6c05a4"/>
<circle cx="1091.75" cy="1550.5" r="4.8" fill="#2e0648"/>
<circle cx="1091.75" cy="1560.75" r="4.8" fill="#2e0648"/>
<circle cx="1083" cy="1578" r="4.8" fill="#2e0648"/>
<circle cx="1100" cy="1582.5" r="4.8" fill="#2e0648"/>
<circle cx="1091.75" cy="1602" r="4.8" fill="#2e0648"/>
<circle cx="1100" cy="1615" r="4.8" fill="#2e0648"/>
<circle cx="1083" cy="1620.5" r="4.8" fill="#2e0648"/>
<circle cx="1091.75" cy="1631.25" r="4.8" fill="#2e0648"/>
<circle cx="1091.75" cy="1640" r="4.8" fill="#2e0648"/>
<text transform="translate(883.35 1522.5) rotate(-90)" x="0" y="0" class="yl" textLength="292.5" lengthAdjust="spacingAndGlyphs"><tspan font-weight="normal">Δ</tspan> LA max Volume index (%)</text>
<path d="M1236 1399.5V1673.75H1418.5" fill="none" stroke="#111" stroke-width="2.6"/>
<path d="M1223.5 1399.5H1236" stroke="#111" stroke-width="2.6"/>
<text x="1220" y="1406.8" class="tk">40</text>
<path d="M1223.5 1446.75H1236" stroke="#111" stroke-width="2.6"/>
<text x="1220" y="1454.05" class="tk">20</text>
<path d="M1223.5 1491.25H1236" stroke="#111" stroke-width="2.6"/>
<text x="1220" y="1498.55" class="tk">0</text>
<path d="M1223.5 1537H1236" stroke="#111" stroke-width="2.6"/>
<text x="1220" y="1544.3" class="tk">-20</text>
<path d="M1223.5 1583.25H1236" stroke="#111" stroke-width="2.6"/>
<text x="1220" y="1590.55" class="tk">-40</text>
<path d="M1223.5 1628.75H1236" stroke="#111" stroke-width="2.6"/>
<text x="1220" y="1636.05" class="tk">-60</text>
<path d="M1223.5 1673.75H1236" stroke="#111" stroke-width="2.6"/>
<text x="1220" y="1681.05" class="tk">-80</text>
<path d="M1281 1673.75V1687.25" stroke="#111" stroke-width="2.6"/>
<path d="M1371.75 1673.75V1687.25" stroke="#111" stroke-width="2.6"/>
<text transform="translate(1288.4 1703.45) rotate(-45)" x="0" y="0" class="xl" textLength="95" lengthAdjust="spacingAndGlyphs">LoR-REM</text>
<text transform="translate(1379.15 1703.45) rotate(-45)" x="0" y="0" class="xl" textLength="90.2" lengthAdjust="spacingAndGlyphs">HiR-REM</text>
<path d="M1251.25 1553.25H1311.75" stroke="#222" stroke-width="2.8"/>
<path d="M1342.25 1555.75H1403" stroke="#222" stroke-width="2.8"/>
<circle cx="1281" cy="1492" r="4.8" fill="#6c05a4"/>
<circle cx="1272.5" cy="1532" r="4.8" fill="#6c05a4"/>
<circle cx="1289.25" cy="1523.75" r="4.8" fill="#6c05a4"/>
<circle cx="1289.25" cy="1536.75" r="4.8" fill="#6c05a4"/>
<circle cx="1281" cy="1577.5" r="4.8" fill="#6c05a4"/>
<circle cx="1281" cy="1585.5" r="4.8" fill="#6c05a4"/>
<circle cx="1281" cy="1629.5" r="4.8" fill="#6c05a4"/>
<circle cx="1372.25" cy="1448.75" r="4.8" fill="#2e0648"/>
<circle cx="1372.25" cy="1487.5" r="4.8" fill="#2e0648"/>
<circle cx="1372.25" cy="1545" r="4.8" fill="#2e0648"/>
<circle cx="1372.25" cy="1553.25" r="4.8" fill="#2e0648"/>
<circle cx="1364.25" cy="1577" r="4.8" fill="#2e0648"/>
<circle cx="1380.5" cy="1580.75" r="4.8" fill="#2e0648"/>
<circle cx="1364.25" cy="1586.75" r="4.8" fill="#2e0648"/>
<circle cx="1364.25" cy="1613.75" r="4.8" fill="#2e0648"/>
<circle cx="1380.5" cy="1613.25" r="4.8" fill="#2e0648"/>
<text transform="translate(1165.6 1536.25) rotate(-90)" x="0" y="0" class="yl" textLength="122.5" lengthAdjust="spacingAndGlyphs"><tspan font-weight="normal">Δ</tspan> LAEF (%)</text>
</svg>
</body></html>
